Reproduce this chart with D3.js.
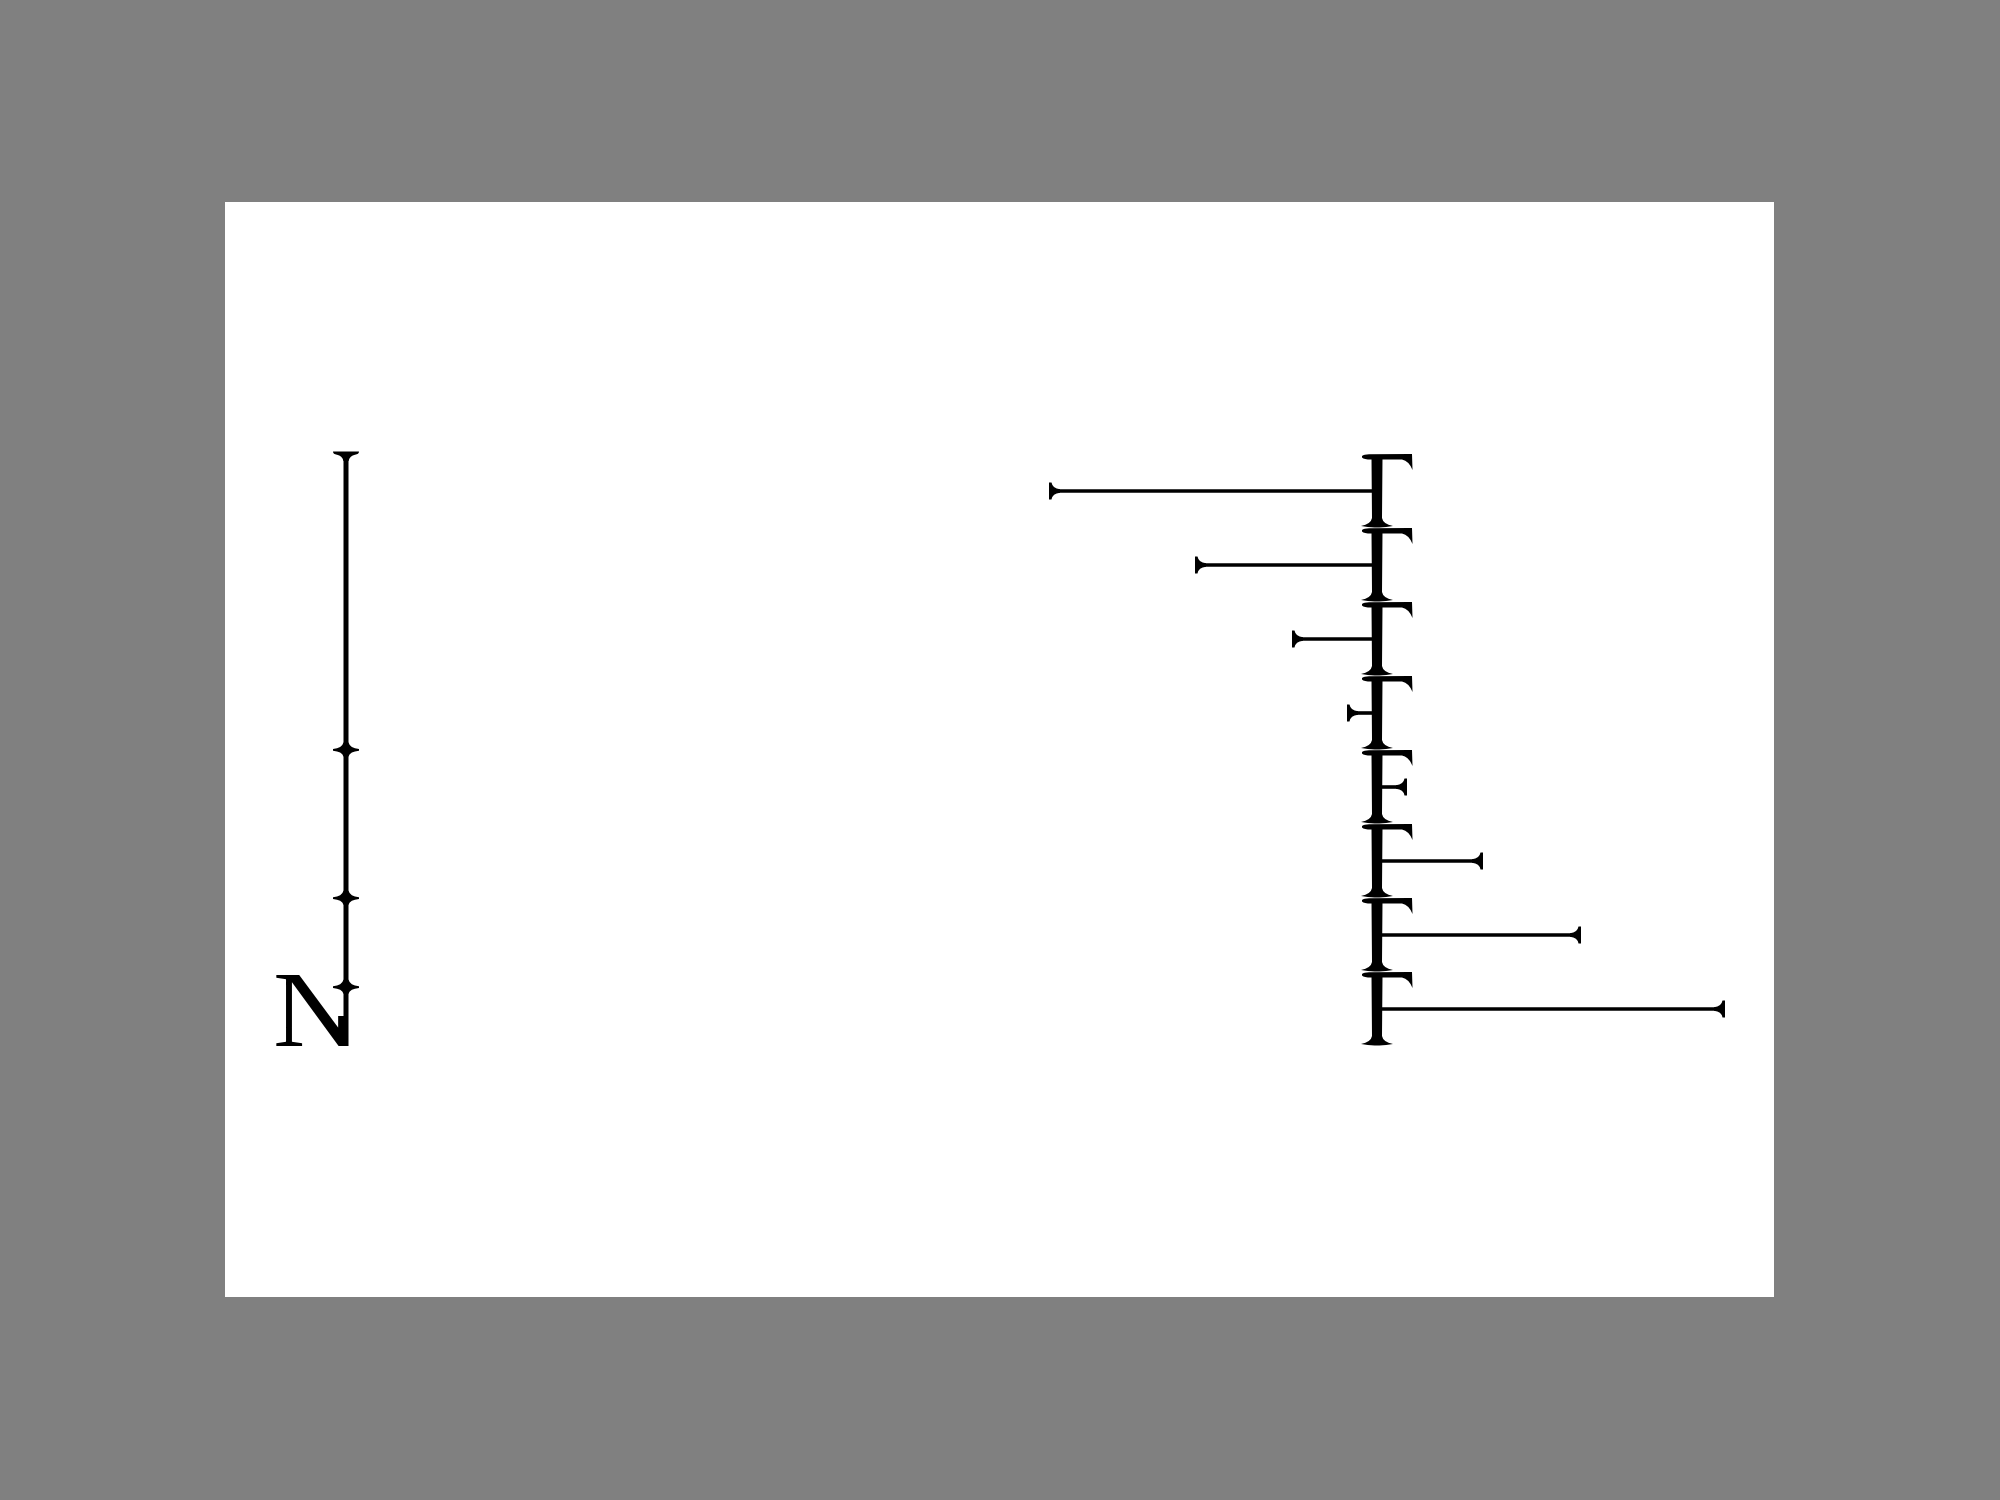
<!DOCTYPE html>
<html>
<head>
<meta charset="utf-8">
<script src="https://cdn.jsdelivr.net/npm/d3@7"></script>
<style>
html,body{margin:0;padding:0;background:#808080;}
svg{display:block;}
</style>
</head>
<body>
<svg id="chart" width="2000" height="1500"></svg>
<script>
// ---- data ----
const rows = ["1","2","3","4","5","6","7","8"];
const values = [-328, -182, -85, -30, 30, 106, 204, 348];
const scaleTicks = [1, 2.5, 5, 10];
const scaleLetter = "N";

const svg = d3.select("#chart");
svg.append("rect").attr("x",0).attr("y",0).attr("width",2000).attr("height",1500).attr("fill","#808080");
svg.append("rect").attr("x",225).attr("y",202).attr("width",1549).attr("height",1095).attr("fill","#ffffff");

// ---- main diverging bars ----
const x = d3.scaleLinear().domain([-400, 400]).range([977, 1777]);
const y = d3.scaleBand().domain(rows).range([454, 1046]).paddingInner(0).paddingOuter(0);
const cx = x(0);
const h = y.bandwidth();

const g = svg.append("g");

// bars
rows.forEach((r, i) => {
  const v = values[i];
  const yc = y(r) + h / 2;
  const xe = x(v);
  const s = v < 0 ? 1 : -1;
  g.append("line")
    .attr("x1", cx).attr("x2", xe + s * 2)
    .attr("y1", yc).attr("y2", yc)
    .attr("stroke", "#000").attr("stroke-width", 3.6);
  const p = d3.path();
  p.moveTo(xe, yc - 8.5);
  p.lineTo(xe + s * 2.5, yc - 8.5);
  p.quadraticCurveTo(xe + s * 3.5, yc - 2.5, xe + s * 11, yc - 1.8);
  p.lineTo(xe + s * 11, yc + 1.8);
  p.quadraticCurveTo(xe + s * 3.5, yc + 2.5, xe + s * 2.5, yc + 8.5);
  p.lineTo(xe, yc + 8.5);
  p.closePath();
  g.append("path").attr("d", p.toString()).attr("fill", "#000");
});

// axis glyphs
rows.forEach((r) => {
  const y0 = y(r);
  const y1 = y0 + h;
  const a = d3.path();
  a.moveTo(cx - 15, y0 + 2);
  a.quadraticCurveTo(cx - 13, y0 + 0.3, cx - 8, y0 + 0.3);
  a.lineTo(cx + 33, y0 + 0);
  a.lineTo(cx + 35, y0 + 0);
  a.lineTo(cx + 35.5, y0 + 16);
  a.quadraticCurveTo(cx + 32, y0 + 7, cx + 25, y0 + 5.5);
  a.lineTo(cx - 6, y0 + 5.5);
  a.quadraticCurveTo(cx - 13, y0 + 5.5, cx - 15, y0 + 3.5);
  a.closePath();
  g.append("path").attr("d", a.toString()).attr("fill", "#000");
  const b = d3.path();
  b.moveTo(cx - 5.5, y0 + 4);
  b.lineTo(cx + 5.5, y0 + 4);
  b.lineTo(cx + 5, y1 - 10);
  b.quadraticCurveTo(cx + 6, y1 - 4, cx + 16, y1 - 2);
  b.quadraticCurveTo(cx + 8, y1 - 0.3, cx, y1 - 0.6);
  b.quadraticCurveTo(cx - 8, y1 - 0.3, cx - 16, y1 - 2);
  b.quadraticCurveTo(cx - 6, y1 - 4, cx - 5, y1 - 10);
  b.closePath();
  g.append("path").attr("d", b.toString()).attr("fill", "#000");
});

// ---- left scale ----
const ys = d3.scaleLinear().domain([0, 10]).range([1046, 453]);
const sx = 346;

// clip that hides the letter's right stem so its right side merges with the scale line
const defs = svg.append("defs");
defs.append("clipPath").attr("id", "letterClip")
  .attr("clipPathUnits", "userSpaceOnUse")
  .append("path")
  .attr("d", "M200,900 L324,900 L324,1000 L332,1016 L400,1016 L400,1100 L200,1100 Z");

const sg = svg.append("g");

sg.append("g")
  .attr("clip-path", "url(#letterClip)")
  .append("text")
  .attr("x", 0).attr("y", 0)
  .attr("transform", `translate(273,${ys(0)}) scale(1.1,1.03)`)
  .attr("font-family", "'Liberation Serif', 'DejaVu Serif', serif")
  .attr("font-size", 105)
  .attr("fill", "#000")
  .text(scaleLetter);

sg.append("line").attr("x1", sx).attr("x2", sx)
  .attr("y1", ys(10)).attr("y2", ys(0))
  .attr("stroke", "#000").attr("stroke-width", 5);

scaleTicks.forEach((t) => {
  const ty = ys(t);
  const p = d3.path();
  if (t === d3.max(scaleTicks)) {
    p.moveTo(sx - 13, ty - 1.5);
    p.lineTo(sx + 13, ty - 1.5);
    p.quadraticCurveTo(sx + 13, ty + 1.2, sx + 9, ty + 1.8);
    p.quadraticCurveTo(sx + 4, ty + 2.5, sx + 2.5, ty + 8);
    p.lineTo(sx - 2.5, ty + 8);
    p.quadraticCurveTo(sx - 4, ty + 2.5, sx - 9, ty + 1.8);
    p.quadraticCurveTo(sx - 13, ty + 1.2, sx - 13, ty - 1.5);
  } else {
    p.moveTo(sx - 13, ty - 0.5);
    p.quadraticCurveTo(sx - 4, ty - 1.5, sx - 2.5, ty - 7);
    p.lineTo(sx + 2.5, ty - 7);
    p.quadraticCurveTo(sx + 4, ty - 1.5, sx + 13, ty - 0.5);
    p.lineTo(sx + 13, ty + 1.2);
    p.quadraticCurveTo(sx + 4, ty + 2, sx + 2.5, ty + 7);
    p.lineTo(sx - 2.5, ty + 7);
    p.quadraticCurveTo(sx - 4, ty + 2, sx - 13, ty + 1.2);
  }
  p.closePath();
  sg.append("path").attr("d", p.toString()).attr("fill", "#000");
});
</script>
</body>
</html>
